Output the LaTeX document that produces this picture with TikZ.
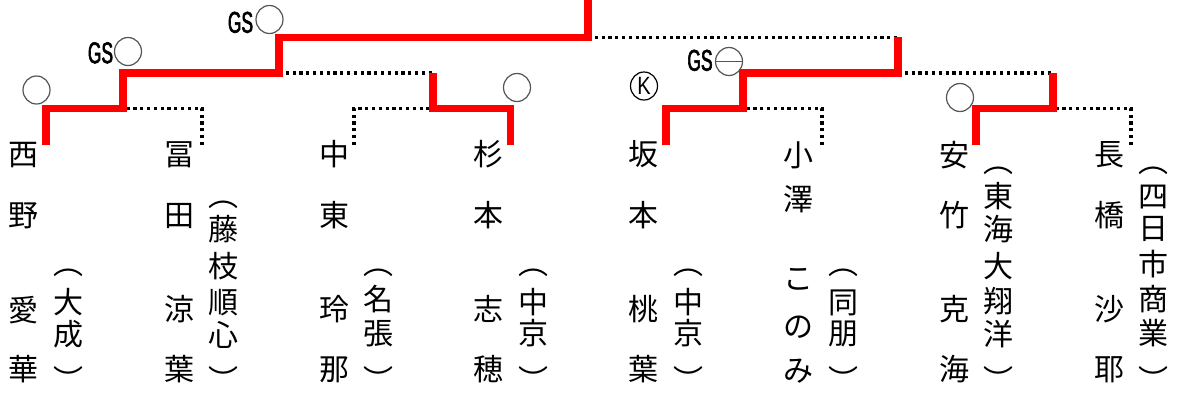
\documentclass[tikz,border=0pt]{standalone}
\usepackage{fontspec}
\usetikzlibrary{shapes.geometric}
\newfontfamily\jpfont{Noto Sans CJK JP}
\newfontfamily\gsfont[FakeStretch=0.58,FakeBold=2]{Liberation Sans}
\newfontfamily\kfont[FakeStretch=0.8]{Liberation Sans}
\definecolor{winred}{RGB}{255,0,0}
\definecolor{markgray}{RGB}{85,85,85}
\tikzset{
  win/.style={draw=winred,line width=7.5pt,line join=miter,line cap=butt},
  lose/.style={draw=black,line width=3.5pt,dash pattern=on 3.2pt off 3.6pt,line cap=butt},
  jpchar/.style={font=\jpfont\fontsize{30pt}{30pt}\selectfont,inner sep=0pt,
    text height=0.88em,text depth=0.12em,anchor=center},
  resmark/.style={ellipse,draw=markgray,line width=1.2pt,inner sep=0pt,
    minimum width=27pt,minimum height=28pt},
  gslabel/.style={font=\gsfont\fontsize{30pt}{30pt}\selectfont,inner sep=0pt,anchor=base}
}
\newcommand\vchars[3]{%
  \foreach \ch/\yy [count=\i] in {#3} {\node[jpchar] (#1-\i) at (#2,\yy) {\ch};}}
\begin{document}
\begin{tikzpicture}[x=1pt,y=-1pt]
\useasboundingbox (0,0) rectangle (1177,396);
\fill[white] (0,0) rectangle (1177,396);
% leaves
\coordinate (L1) at (46,145);
\coordinate (L2) at (202,145);
\coordinate (L3) at (354,145);
\coordinate (L4) at (510.5,145);
\coordinate (L5) at (666,145);
\coordinate (L6) at (822,145);
\coordinate (L7) at (976,145);
\coordinate (L8) at (1131,145);
% junctions
\coordinate (M1) at (123,108.5);
\coordinate (M2) at (433,108.5);
\coordinate (M3) at (743,108.5);
\coordinate (M4) at (1053,108.5);
\coordinate (S1) at (279,73);
\coordinate (S2) at (898,73);
\coordinate (F) at (588,37.5);
\coordinate (T) at (588,0);
% lost lines
\draw[lose] (L2) |- (M1);
\draw[lose] (L3) |- (M2);
\draw[lose] (L6) |- (M3);
\draw[lose] (L8) |- (M4);
\draw[lose] (S1) -- (M2 |- S1);
\draw[lose] (S2) -- (M4 |- S2);
\draw[lose] (F) -- (S2 |- F);
% winning lines
\draw[win] (L1) |- (M1) |- (S1) |- (F) -- (T);
\draw[win] (L4) |- (M2) -- (M2 |- S1);
\draw[win] (L5) |- (M3) |- (S2) -- (S2 |- F);
\draw[win] (L7) |- (M4) -- (M4 |- S2);
% marks
\node[resmark] (m1) at (36.5,90) {};
\node[resmark] (m2) at (128,51.5) {};
\node[resmark] (m3) at (269.5,19.5) {};
\node[resmark] (m4) at (517,87.5) {};
\node[resmark,draw=black] (m5) at (644,86) {\kfont\fontsize{25pt}{25pt}\selectfont K};
\node[resmark] (m6) at (729,61.5) {};
\draw[markgray,line width=1.2pt] (m6.west) -- (m6.east);
\node[resmark] (m7) at (960,97.5) {};
\node[gslabel] (g1) at (100.5,63.2) {GS};
\node[gslabel] (g2) at (240.5,32.7) {GS};
\node[gslabel] (g3) at (700,70.7) {GS};
% names
\vchars{n1}{23.5}{西/162,野/223,愛/317.5,華/377}
\vchars{s1}{68}{︵/270.5,大/309.5,成/341.5,︶/387.5}
\vchars{n2}{179}{冨/161.5,田/223,涼/317,葉/377}
\vchars{s2}{223}{︵/202.5,藤/237,枝/274,順/310,心/343,︶/387.5}
\vchars{n3}{334}{中/162,東/223,玲/317,那/377}
\vchars{s3}{378}{︵/270.5,名/307,張/341,︶/387.5}
\vchars{n4}{488.5}{杉/162,本/222.5,志/317,穂/377}
\vchars{s4}{533}{︵/270.5,中/309.5,京/341,︶/387.5}
\vchars{n5}{643.5}{坂/162,本/222.5,桃/317,葉/377}
\vchars{s5}{688}{︵/270.5,中/309.5,京/341,︶/387.5}
\vchars{n6}{798}{小/162.5,澤/207,こ/286,の/334,み/378}
\vchars{s6}{843}{︵/270.5,同/309.5,朋/341,︶/387.5}
\vchars{n7}{954}{安/162.5,竹/223,克/316.5,海/377}
\vchars{s7}{998.5}{︵/168.5,東/203.5,海/237,大/273.5,翔/308.5,洋/341.5,︶/387.5}
\vchars{n8}{1109}{長/161.5,橋/223,沙/316.5,耶/377}
\vchars{s8}{1153}{︵/168.5,四/204,日/236,市/272,商/306.5,業/341,︶/387.5}
\end{tikzpicture}
\end{document}
